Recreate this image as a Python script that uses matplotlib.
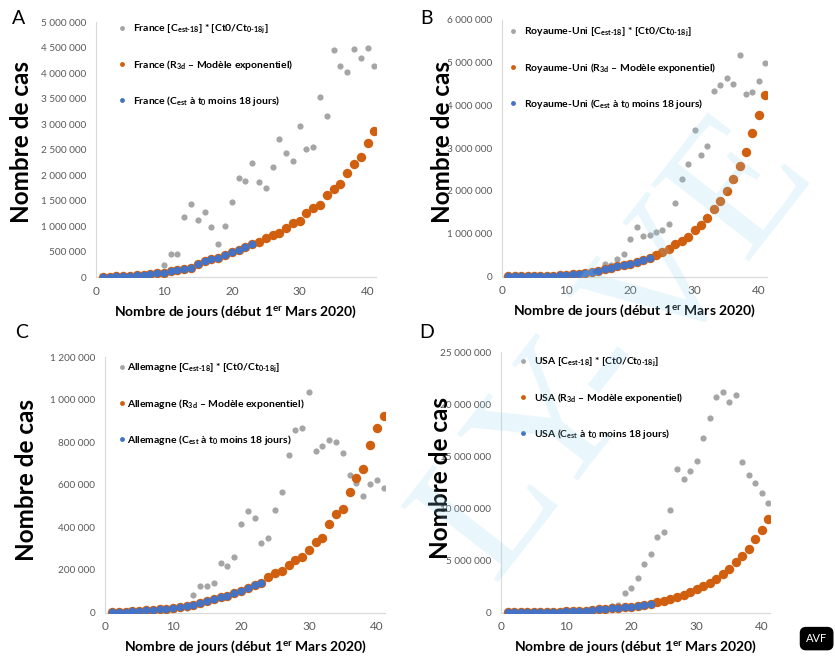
import numpy as np
import matplotlib
matplotlib.use("Agg")
import matplotlib.pyplot as plt
from matplotlib.lines import Line2D
from matplotlib.ticker import FuncFormatter, MultipleLocator

plt.rcParams['font.family'] = ['Lato', 'DejaVu Sans']
plt.rcParams['mathtext.fontset'] = 'custom'
plt.rcParams['mathtext.rm'] = 'Lato:bold'
plt.rcParams['mathtext.it'] = 'Lato:bold'
plt.rcParams['mathtext.bf'] = 'Lato:bold'
plt.rcParams['mathtext.default'] = 'rm'

# jours depuis le 1er mars 2020
jours = np.arange(1, 42)
jours_obs = jours[:23]

# valeurs en millions de cas
france_ct = [0.005, 0.01, 0.01, 0.02, 0.03, 0.04, 0.05, 0.06, 0.07, 0.24,
             0.455, 0.455, 1.19, 1.44, 1.13, 1.28, 0.99, 0.66, 1.00, 1.47,
             1.95, 1.88, 2.25, 1.87, 1.76, 2.17, 2.72, 2.43, 2.28, 2.96,
             2.51, 2.56, 3.54, 3.17, 4.45, 4.15, 4.03, 4.47, 4.30, 4.50, 4.15]
france_r3d = [0.0, 0.01, 0.02, 0.02, 0.03, 0.04, 0.05, 0.06, 0.08, 0.09,
              0.12, 0.14, 0.17, 0.19, 0.26, 0.31, 0.36, 0.38, 0.44, 0.50,
              0.53, 0.60, 0.65, 0.69, 0.77, 0.82, 0.87, 0.97, 1.06, 1.10,
              1.26, 1.36, 1.42, 1.61, 1.74, 1.83, 2.05, 2.22, 2.35, 2.63, 2.86]
france_cest = france_r3d[:23]

ru_ct = [0.003, 0.004, 0.005, 0.006, 0.008, 0.01, 0.012, 0.015, 0.02, 0.025,
         0.03, 0.04, 0.05, 0.08, 0.12, 0.29, 0.28, 0.42, 0.53, 0.88,
         1.15, 0.95, 0.98, 1.05, 1.09, 1.24, 1.73, 2.29, 2.63, 3.43,
         2.83, 3.04, 4.33, 4.47, 4.64, 4.51, 5.17, 4.27, 4.30, 4.57, 4.99]
ru_r3d = [0.005, 0.007, 0.009, 0.011, 0.013, 0.016, 0.02, 0.025, 0.03, 0.04,
          0.05, 0.065, 0.085, 0.11, 0.14, 0.18, 0.21, 0.24, 0.26, 0.29,
          0.35, 0.39, 0.44, 0.50, 0.57, 0.65, 0.76, 0.83, 0.92, 1.09,
          1.21, 1.37, 1.57, 1.77, 1.99, 2.29, 2.58, 2.92, 3.35, 3.77, 4.25]
ru_cest = ru_r3d[:23]

all_ct = [0.001, 0.001, 0.002, 0.003, 0.004, 0.005, 0.006, 0.005, 0.01, 0.008,
          0.02, 0.02, 0.082, 0.126, 0.123, 0.137, 0.234, 0.221, 0.262, 0.418,
          0.479, 0.446, 0.329, 0.348, 0.482, 0.564, 0.741, 0.858, 0.866, 1.038,
          0.758, 0.782, 0.812, 0.800, 0.749, 0.645, 0.610, 0.548, 0.602, 0.621, 0.585]
all_r3d = [0.003, 0.004, 0.005, 0.006, 0.008, 0.010, 0.012, 0.015, 0.018, 0.023,
           0.028, 0.031, 0.036, 0.044, 0.056, 0.065, 0.072, 0.079, 0.090, 0.103,
           0.117, 0.129, 0.140, 0.165, 0.184, 0.195, 0.223, 0.246, 0.259, 0.296,
           0.332, 0.348, 0.418, 0.463, 0.488, 0.568, 0.633, 0.676, 0.785, 0.868, 0.922]
all_cest = all_r3d[:23]

usa_ct = [0.01, 0.01, 0.03, 0.04, 0.02, 0.03, 0.04, 0.05, 0.06, 0.08,
          0.10, 0.12, 0.15, 0.2, 0.25, 0.4, 0.62, 0.75, 1.84, 2.38,
          3.34, 4.66, 5.62, 7.22, 7.70, 9.82, 13.81, 12.85, 13.56, 14.52,
          16.76, 18.68, 20.67, 21.15, 20.22, 20.86, 14.46, 13.24, 12.41, 11.45, 10.55]
usa_r3d = [0.01, 0.015, 0.02, 0.025, 0.03, 0.04, 0.05, 0.06, 0.08, 0.10,
           0.12, 0.15, 0.18, 0.24, 0.30, 0.33, 0.40, 0.44, 0.50, 0.56,
           0.62, 0.72, 0.85, 0.98, 1.13, 1.30, 1.52, 1.68, 1.94, 2.26,
           2.55, 2.80, 3.25, 3.70, 4.15, 4.82, 5.43, 6.10, 7.06, 7.92, 8.95]
usa_cest = usa_r3d[:23]

pays = ["France", "Royaume-Uni", "Allemagne", "USA"]
lettres = ["A", "B", "C", "D"]
y_max = [5e6, 6e6, 1.2e6, 25e6]
y_pas = [5e5, 1e6, 2e5, 5e6]

gris = "#A5A5A5"
orange = "#D0600F"
bleu = "#4472C4"

fig = plt.figure(figsize=(8.35, 6.57), dpi=100)

positions = [[0.115, 0.578, 0.335, 0.388],
             [0.601, 0.579, 0.317, 0.391],
             [0.126, 0.0676, 0.335, 0.389],
             [0.600, 0.0677, 0.3216, 0.396]]
series = [(france_ct, france_r3d, france_cest),
          (ru_ct, ru_r3d, ru_cest),
          (all_ct, all_r3d, all_cest),
          (usa_ct, usa_r3d, usa_cest)]
# legend anchors (px), handletextpad, handlelength
leg_pos = [(117, 23, 0.5, 1.0), (508, 26, 0.5, 1.0), (119, 362, 0.15, 0.6), (518, 356, 0.5, 1.0)]
ylab_pos = [(22, 142), (442, 142), (27, 480), (440, 478)]
letter_pos = [(19, 18), (427, 18), (22, 333), (427, 333)]

fmt = FuncFormatter(lambda v, p: "{:,}".format(int(round(v))).replace(",", " "))

for i in range(4):
    ax = fig.add_axes(positions[i])
    ct, r3d, cest = series[i]
    ax.scatter(jours, np.array(ct) * 1e6, s=20, color=gris, linewidths=0, zorder=2)
    ax.scatter(jours, np.array(r3d) * 1e6, s=46, color=orange, linewidths=0, zorder=3)
    ax.scatter(jours_obs, np.array(cest) * 1e6, s=30, color=bleu, linewidths=0, zorder=4)

    ax.set_xlim(0, 41.2)
    ax.set_ylim(0, y_max[i])
    ax.xaxis.set_major_locator(MultipleLocator(10))
    ax.yaxis.set_major_locator(MultipleLocator(y_pas[i]))
    ax.yaxis.set_major_formatter(fmt)
    for s in ["top", "right"]:
        ax.spines[s].set_visible(False)
    for s in ["left", "bottom"]:
        ax.spines[s].set_color("#D9D9D9")
        ax.spines[s].set_linewidth(0.8)
    ax.tick_params(axis="both", length=0, colors="#595959")
    ax.tick_params(axis="y", labelsize=7.2, pad=7)
    ax.tick_params(axis="x", labelsize=8.5, pad=6)
    ax.set_xlabel(r"Nombre de jours (début 1$^{er}$ Mars 2020)",
                  fontsize=10, fontweight="bold", labelpad=5)

    p = pays[i]
    labels = [p + r" [C$_{\text{est-18}}$] * [Ct0/Ct$_{\text{0-18j}}$]",
              p + r" (R$_{3d}$ – Modèle exponentiel)",
              p + r" (C$_{est}$ à t$_0$ moins 18 jours)"]
    handles = [Line2D([], [], ls="", marker="o", ms=3.5, color=c, mec="none")
               for c in [gris, orange, bleu]]
    lx, ly, tp, hl = leg_pos[i]
    ax.legend(handles, labels, loc="upper left", frameon=False,
              bbox_to_anchor=(lx / 835, 1 - ly / 657), bbox_transform=fig.transFigure,
              prop={"weight": "bold", "size": 7.5}, labelspacing=2.1,
              handletextpad=tp, handlelength=hl, borderpad=0, borderaxespad=0)

    yx, yy = ylab_pos[i]
    fig.text(yx / 835, 1 - yy / 657, "Nombre de cas", rotation=90, fontsize=17.5,
             fontweight="bold", ha="center", va="center")
    lx2, ly2 = letter_pos[i]
    fig.text(lx2 / 835, 1 - ly2 / 657, lettres[i], fontsize=14, ha="center", va="center")

# filigrane
fig.text(0.74, 0.47, "LY-VE", rotation=52, fontsize=135, family="Liberation Serif",
         color="#8FD3F0", alpha=0.2, ha="center", va="center", zorder=20)

# logo
fig.text(0.978, 0.028, "AVF", color="white", fontsize=8, ha="center", va="center",
         bbox=dict(boxstyle="round,pad=0.5", fc="black", ec="black"))

plt.savefig("out.png", dpi=100)
